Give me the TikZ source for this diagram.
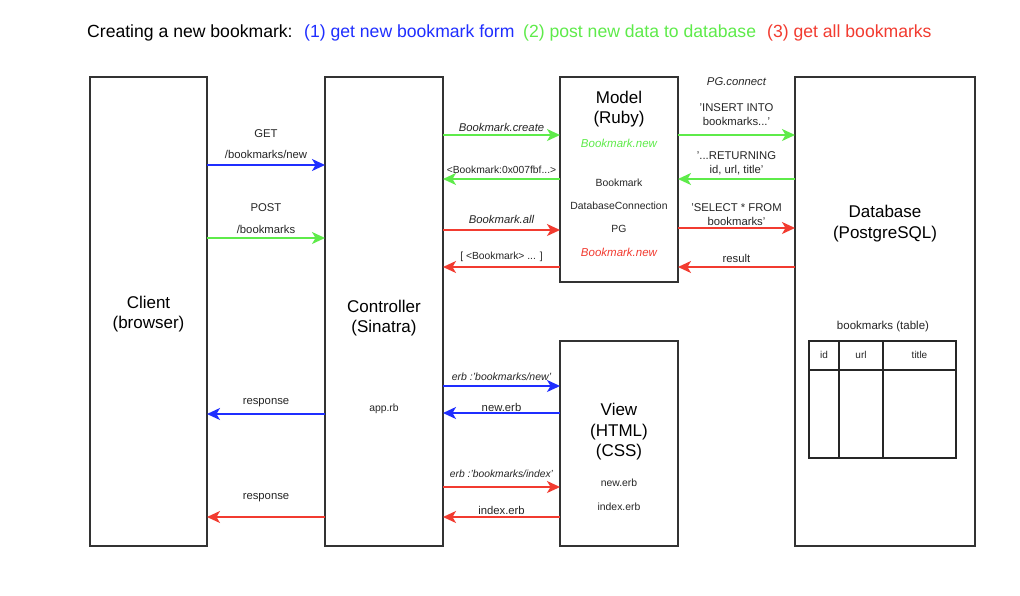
\documentclass[tikz,border=0pt]{standalone}
\usepackage{fontspec}
\setmainfont{Liberation Sans}
\usetikzlibrary{arrows.meta}
\definecolor{cblue}{HTML}{1F2EFF}
\definecolor{cgreen}{HTML}{5EEB4A}
\definecolor{cred}{HTML}{F23B30}
\definecolor{cedge}{HTML}{333333}
\begin{document}
\begin{tikzpicture}[x=1pt,y=-1pt,
  box/.style={draw=cedge, line width=1.3pt, inner sep=0pt, outer sep=0pt, fill=white},
  big/.style={font=\fontsize{17}{20.5}\selectfont, align=center, inner sep=0pt},
  small/.style={font=\fontsize{10.4}{12.5}\selectfont, text=black!85, inner sep=0pt, text height=0.7em, text depth=0pt},
  lbl/.style={font=\fontsize{11.3}{14}\selectfont, text=black!85, inner sep=0pt, align=center},
  ilbl/.style={font=\fontsize{11.3}{14}\selectfont\itshape, text=black!85, inner sep=0pt, text height=0.7em, text depth=0pt},
  ttl/.style={font=\fontsize{17.6}{20}\selectfont, inner sep=0pt, anchor=west, text height=0.7em, text depth=0pt},
  arr/.style={line width=1.4pt, -{Stealth[length=13pt,width=12pt,inset=3.5pt]}}
]
\useasboundingbox (0,0) rectangle (1020,595);
\fill[white] (0,0) rectangle (1020,595);

% title
\node[ttl] (t0) at (87,33.5) {Creating a new bookmark:};
\node[ttl, text=cblue] (t1) at (304,33.5) {(1) get new bookmark form};
\node[ttl, text=cgreen] (t2) at (523,33.5) {(2) post new data to database};
\node[ttl, text=cred] (t3) at (767,33.5) {(3) get all bookmarks};

% boxes
\node[box, minimum width=117, minimum height=469] (client) at (148.5,311.5) {};
\node[box, minimum width=118, minimum height=469] (ctrl) at (384,311.5) {};
\node[box, minimum width=118, minimum height=205] (model) at (619,179.5) {};
\node[box, minimum width=118, minimum height=205] (view) at (619,443.5) {};
\node[box, minimum width=180, minimum height=469] (db) at (885,311.5) {};

% box texts
\node[big] (clientt) at (148.5,314) {Client\\(browser)};
\node[big] (ctrlt) at (384,318) {Controller\\(Sinatra)};
\node[small] (apprb) at (384,408) {app.rb};
\node[big] (modelt) at (619,109) {Model\\(Ruby)};
\node[ilbl, font=\fontsize{11.5}{14}\selectfont\itshape, text=cgreen] (mnew1) at (619,144) {Bookmark.new};
\node[small] (m1) at (619,183) {Bookmark};
\node[small] (m2) at (619,206) {DatabaseConnection};
\node[small] (m3) at (619,229) {PG};
\node[ilbl, font=\fontsize{11.5}{14}\selectfont\itshape, text=cred] (mnew2) at (619,253) {Bookmark.new};
\node[big] (viewt) at (619,432) {View\\(HTML)\\(CSS)};
\node[small] (v1) at (619,483) {new.erb};
\node[small] (v2) at (619,507) {index.erb};
\node[big] (dbt) at (885,223.5) {Database\\(PostgreSQL)};

% table
\node[small, font=\fontsize{11.5}{14}\selectfont] (tblt) at (883,326) {bookmarks (table)};
\node[draw=black!85, line width=1.2pt, inner sep=0pt, outer sep=0pt, minimum width=147, minimum height=117] (tbl) at (882.5,399.5) {};
\draw[black!85, line width=1.2pt] (tbl.west |- 0,370) -- (tbl.east |- 0,370);
\draw[black!85, line width=1.2pt] (tbl.north -| 839,0) -- (tbl.south -| 839,0);
\draw[black!85, line width=1.2pt] (tbl.north -| 883,0) -- (tbl.south -| 883,0);
\node[small, font=\fontsize{10}{11}\selectfont] (c1) at (824,355) {id};
\node[small, font=\fontsize{10}{11}\selectfont] (c2) at (861,355) {url};
\node[small, font=\fontsize{10}{11}\selectfont] (c3) at (919.5,355) {title};

% client <-> controller
\draw[arr, cblue] (client.east |- 0,165) -- (ctrl.west |- 0,165);
\node[lbl] (g1) at (266,134) {GET};
\node[lbl] (g2) at (266,154) {/bookmarks/new};
\draw[arr, cgreen] (client.east |- 0,238) -- (ctrl.west |- 0,238);
\node[lbl] (p1) at (266,208) {POST};
\node[lbl] (p2) at (266,229) {/bookmarks};
\draw[arr, cblue] (ctrl.west |- 0,414) -- (client.east |- 0,414);
\node[lbl] (r1) at (266,403) {response};
\draw[arr, cred] (ctrl.west |- 0,517) -- (client.east |- 0,517);
\node[lbl] (r2) at (266,498) {response};

% controller <-> model
\draw[arr, cgreen] (ctrl.east |- 0,135) -- (model.west |- 0,135);
\node[ilbl] (bc) at (501.5,128) {Bookmark.create};
\draw[arr, cgreen] (model.west |- 0,179) -- (ctrl.east |- 0,179);
\node[lbl, font=\fontsize{10.3}{12}\selectfont] (bo) at (501.5,170) {<Bookmark:0x007fbf...>};
\draw[arr, cred] (ctrl.east |- 0,230) -- (model.west |- 0,230);
\node[ilbl] (ba) at (501.5,220) {Bookmark.all};
\draw[arr, cred] (model.west |- 0,267) -- (ctrl.east |- 0,267);
\node[lbl, font=\fontsize{10.3}{12}\selectfont] (bl) at (501.5,257) {[ <Bookmark> ... ]};

% model <-> database
\node[ilbl] (pgc) at (736.5,82) {PG.connect};
\draw[arr, cgreen] (model.east |- 0,135) -- (db.west |- 0,135);
\node[lbl] (ins) at (736.5,115) {'INSERT INTO\\bookmarks...'};
\draw[arr, cgreen] (db.west |- 0,179) -- (model.east |- 0,179);
\node[lbl] (ret) at (736.5,163.5) {'...RETURNING\\id, url, title'};
\draw[arr, cred] (model.east |- 0,228) -- (db.west |- 0,228);
\node[lbl] (sel) at (736.5,215) {'SELECT * FROM\\bookmarks'};
\draw[arr, cred] (db.west |- 0,267) -- (model.east |- 0,267);
\node[lbl] (res) at (736.5,258) {result};

% controller <-> view
\draw[arr, cblue] (ctrl.east |- 0,386) -- (view.west |- 0,386);
\node[ilbl, font=\fontsize{10.5}{12}\selectfont\itshape] (e1) at (501.5,377) {erb :'bookmarks/new'};
\draw[arr, cblue] (view.west |- 0,413) -- (ctrl.east |- 0,413);
\node[lbl] (n1) at (501.5,407) {new.erb};
\draw[arr, cred] (ctrl.east |- 0,487) -- (view.west |- 0,487);
\node[ilbl, font=\fontsize{10.3}{12}\selectfont\itshape] (e2) at (501.5,474) {erb :'bookmarks/index'};
\draw[arr, cred] (view.west |- 0,517) -- (ctrl.east |- 0,517);
\node[lbl] (n2) at (501.5,510) {index.erb};
\end{tikzpicture}
\end{document}
